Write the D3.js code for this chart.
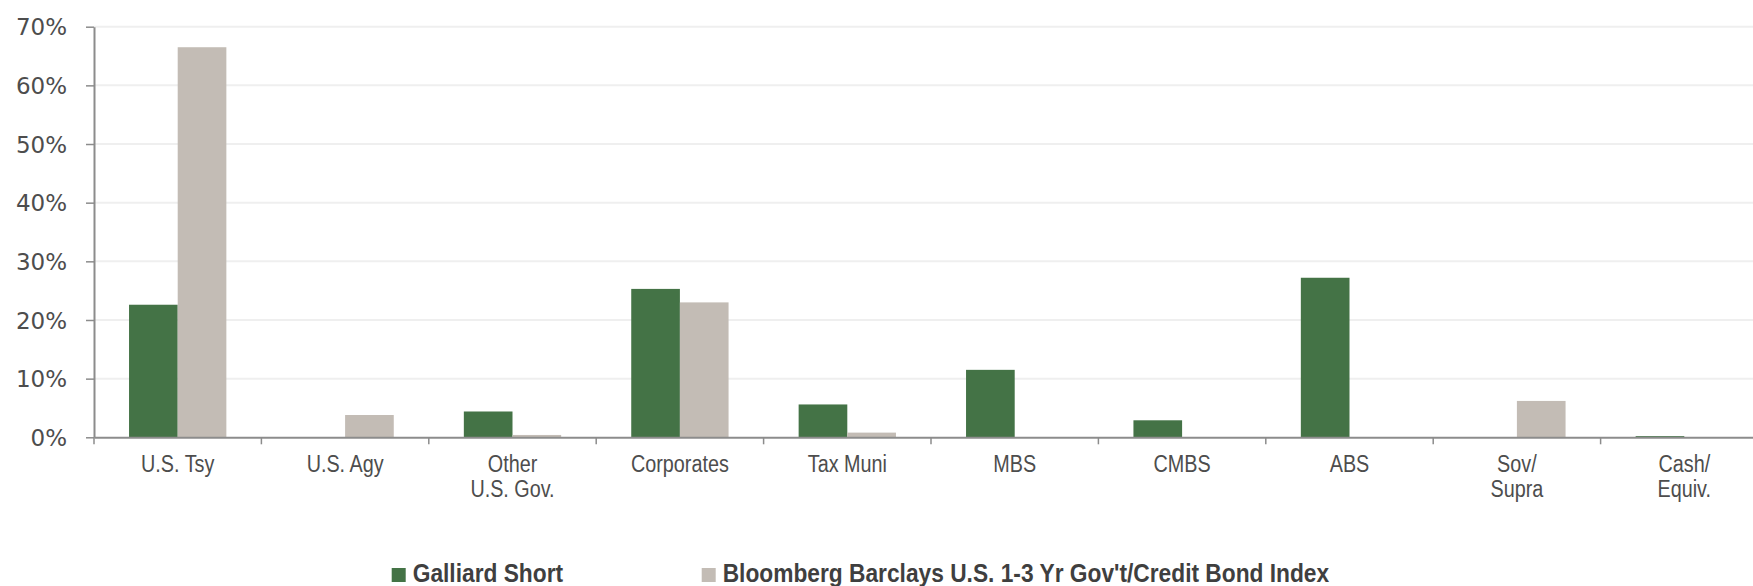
<!DOCTYPE html>
<html>
<head>
<meta charset="utf-8">
<script src="https://cdn.jsdelivr.net/npm/d3@7"></script>
<style>
  body { margin: 0; background: #fff; }
  svg { display: block; }
</style>
</head>
<body>
<div id="chart"></div>
<script>
"use strict";

// chart data
const categories = ["U.S. Tsy", "U.S. Agy", "Other\nU.S. Gov.", "Corporates", "Tax Muni",
                    "MBS", "CMBS", "ABS", "Sov/\nSupra", "Cash/\nEquiv."];
const seriesNames = ["Galliard Short", "Bloomberg Barclays U.S. 1-3 Yr Gov't/Credit Bond Index"];
const galliardValues = [22.6, 0, 4.4, 25.3, 5.6, 11.5, 2.9, 27.2, 0, 0.2];
const indexValues = [66.5, 3.8, 0.4, 23.0, 0.8, 0, 0, 0, 6.2, 0];
const yTicks = [0, 10, 20, 30, 40, 50, 60, 70];
const seriesColors = ["#447346", "#c3bcb5"];

function draw() {
    var W = 1753, H = 586;
    var left = 94, bottom = 437.3, top = 26.7;
    var bandW = 167.4;

    const svg = d3.select("#chart")
        .append("svg")
        .attr("width", W)
        .attr("height", H);

    // the plot runs past the right edge of the picture, like the original
    var x = d3.scaleBand()
        .domain(categories)
        .range([left, left + bandW * categories.length])
        .padding(0);

    var xSub = d3.scaleBand()
        .domain(seriesNames)
        .range([0, x.bandwidth()])
        .paddingInner(0)
        .paddingOuter(0.72);

    var y = d3.scaleLinear()
        .domain([0, 70])
        .range([bottom, top]);

    var color = d3.scaleOrdinal().domain(seriesNames).range(seriesColors);

    // gridlines
    svg.append("g")
        .selectAll("line")
        .data(yTicks.filter(d => d > 0))
        .join("line")
        .attr("x1", left)
        .attr("x2", W)
        .attr("y1", d => y(d))
        .attr("y2", d => y(d))
        .attr("stroke", "#efefef")
        .attr("stroke-width", 2);

    // bars
    var rows = categories.map((c, i) => ({cat: c, vals: [galliardValues[i], indexValues[i]]}));
    svg.append("g")
        .selectAll("g")
        .data(rows)
        .join("g")
        .attr("transform", d => `translate(${x(d.cat)},0)`)
        .selectAll("rect")
        .data(d => seriesNames.map((s, j) => ({key: s, value: d.vals[j]})))
        .join("rect")
        .attr("x", d => xSub(d.key))
        .attr("y", d => y(d.value))
        .attr("width", xSub.bandwidth())
        .attr("height", d => bottom - y(d.value))
        .attr("fill", d => color(d.key));

    // y axis
    var yAxis = svg.append("g")
        .attr("transform", `translate(${left},0)`)
        .call(d3.axisLeft(y).tickValues(yTicks).tickFormat(d => d + "%").tickSize(8).tickSizeOuter(0).tickPadding(19));
    yAxis.select(".domain").attr("stroke", "#8c8c8c").attr("stroke-width", 2);
    yAxis.selectAll(".tick line").attr("stroke", "#8c8c8c").attr("stroke-width", 1.5);
    yAxis.selectAll(".tick text")
        .attr("fill", "#4d4d4d")
        .style("font-family", "'DejaVu Sans', sans-serif")
        .style("font-size", "23px")
        .attr("dy", "0.36em");

    // x axis (labels squeezed a bit to look condensed)
    var xAxis = svg.append("g")
        .attr("transform", `translate(0,${bottom})`)
        .call(d3.axisBottom(x).tickSize(0).tickSizeOuter(0));
    xAxis.select(".domain").attr("stroke", "#8c8c8c").attr("stroke-width", 2);
    xAxis.selectAll(".tick text").each(function(d) {
        var t = d3.select(this);
        t.text(null).attr("dy", null).attr("y", null);
        d.split("\n").forEach((line, i) => {
            t.append("tspan").attr("x", 0).attr("y", 35 + i * 25).text(line);
        });
    })
        .attr("transform", "scale(0.86,1)")
        .attr("fill", "#4d4d4d")
        .style("font-family", "'Liberation Sans', sans-serif")
        .style("font-size", "23px");

    // category boundary ticks
    xAxis.append("g")
        .selectAll("line")
        .data(categories)
        .join("line")
        .attr("x1", d => x(d))
        .attr("x2", d => x(d))
        .attr("y1", 0)
        .attr("y2", 7)
        .attr("stroke", "#8c8c8c")
        .attr("stroke-width", 1.5);

    // legend
    var legendX = [391.7, 701.7];
    var legend = svg.append("g")
        .selectAll("g")
        .data(seriesNames)
        .join("g")
        .attr("transform", (d, i) => `translate(${legendX[i]},568)`);
    legend.append("rect")
        .attr("width", 14)
        .attr("height", 14)
        .attr("fill", d => color(d));
    legend.append("text")
        .attr("transform", "translate(21,14) scale(0.91,1)")
        .text(d => d)
        .attr("fill", "#3f3f3f")
        .style("font-family", "'Liberation Sans', sans-serif")
        .style("font-weight", "bold")
        .style("font-size", "25px");
}

window.onload = draw;
</script>
</body>
</html>
